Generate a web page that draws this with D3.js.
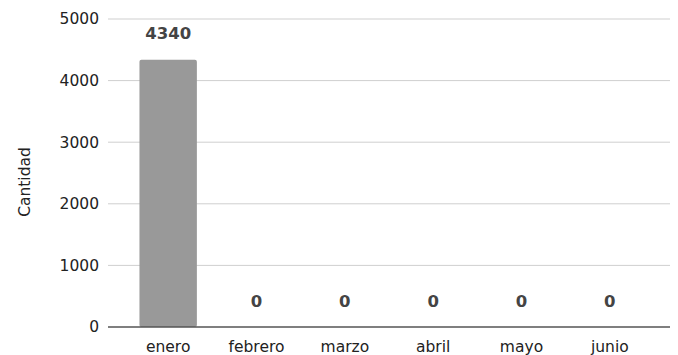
<!DOCTYPE html>
<html lang="es">
<head>
<meta charset="UTF-8">
<title>Cantidad por mes</title>
<script src="https://d3js.org/d3.v7.min.js"></script>
<style>
    body { margin: 0; background: #fff; }
    text { font-family: "DejaVu Sans", Verdana, sans-serif; }
</style>
</head>
<body>
<svg id="chart" width="678" height="355"></svg>
<script>
    // data
    const meses = ["enero", "febrero", "marzo", "abril", "mayo", "junio"];
    const cantidad = [4340, 0, 0, 0, 0, 0];
    const yTicks = [0, 1000, 2000, 3000, 4000, 5000];

    const svg = d3.select("#chart");
    const gridLeft = 108, gridRight = 670;
    const plotTop = 19, plotBottom = 327;

    let x = d3.scaleBand()
        .domain(meses)
        .range([124, 654])
        .paddingInner(0.35)
        .paddingOuter(0.175);
    let y = d3.scaleLinear().domain([0, 5000]).range([plotBottom, plotTop]);

    // gridlines
    svg.append("g")
        .selectAll("line")
        .data(yTicks.filter(d => d > 0))
        .join("line")
        .attr("x1", gridLeft)
        .attr("x2", gridRight)
        .attr("y1", d => y(d))
        .attr("y2", d => y(d))
        .attr("stroke", "#cfcfcf")
        .attr("stroke-width", 1);

    // y tick labels
    svg.append("g")
        .selectAll("text")
        .data(yTicks)
        .join("text")
        .attr("x", 99)
        .attr("y", d => y(d))
        .attr("dy", "0.35em")
        .attr("text-anchor", "end")
        .attr("font-size", 15.5)
        .attr("fill", "#222")
        .text(d => d);

    // bars
    svg.append("g")
        .selectAll("rect")
        .data(meses)
        .join("rect")
        .attr("x", d => x(d))
        .attr("y", (d, i) => y(cantidad[i]))
        .attr("width", x.bandwidth())
        .attr("height", (d, i) => plotBottom - y(cantidad[i]))
        .attr("rx", 2)
        .attr("fill", "#999999");

    // value labels
    svg.append("g")
        .selectAll("text")
        .data(meses)
        .join("text")
        .attr("x", d => x(d) + x.bandwidth() / 2)
        .attr("y", (d, i) => y(cantidad[i]) - 26)
        .attr("dy", "0.35em")
        .attr("text-anchor", "middle")
        .attr("font-size", 16.5)
        .attr("font-weight", "bold")
        .attr("fill", "#444")
        .text((d, i) => cantidad[i]);

    // x axis line
    svg.append("line")
        .attr("x1", gridLeft)
        .attr("x2", gridRight)
        .attr("y1", plotBottom)
        .attr("y2", plotBottom)
        .attr("stroke", "#555")
        .attr("stroke-width", 1.3);

    // x labels
    svg.append("g")
        .selectAll("text")
        .data(meses)
        .join("text")
        .attr("x", d => x(d) + x.bandwidth() / 2)
        .attr("y", 352)
        .attr("text-anchor", "middle")
        .attr("font-size", 15.5)
        .attr("fill", "#222")
        .text(d => d);

    // y title
    svg.append("text")
        .attr("transform", "translate(30," + 182 + ") rotate(-90)")
        .attr("text-anchor", "middle")
        .attr("font-size", 15.5)
        .attr("fill", "#222")
        .text("Cantidad");
</script>
</body>
</html>
